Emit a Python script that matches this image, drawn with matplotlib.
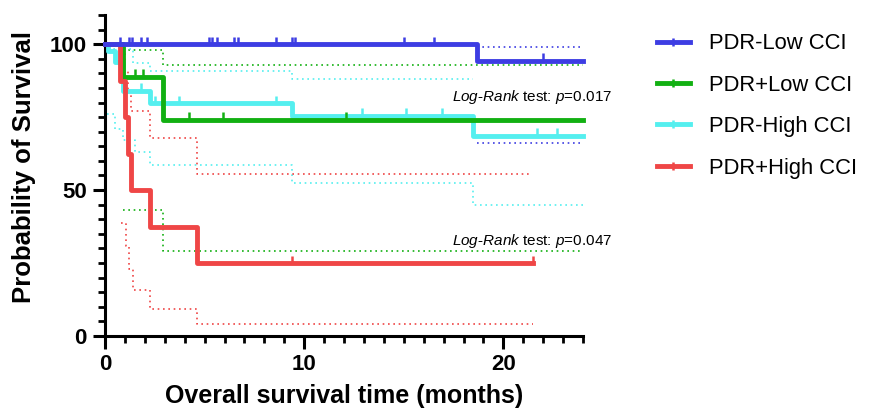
import matplotlib.pyplot as plt
from matplotlib.lines import Line2D
from matplotlib.ticker import MultipleLocator

plt.rcParams["font.family"] = ["Liberation Sans", "DejaVu Sans"]
plt.rcParams["mathtext.fontset"] = "custom"
plt.rcParams["mathtext.it"] = "Liberation Sans:italic"
plt.rcParams["mathtext.rm"] = "Liberation Sans"

labels = ["PDR-Low CCI", "PDR+Low CCI", "PDR-High CCI", "PDR+High CCI"]
colors = ["#3d3de3", "#12b012", "#55efef", "#ef4646"]

# survival curves (months, %)
blue_t = [0, 18.7, 24]
blue_s = [100, 94.4, 94.4]
blue_cens = [0.75, 1.2, 1.35, 1.8, 2.1, 5.2, 5.35, 5.6, 6.5, 6.7, 8.6, 9.4, 9.55, 15.0, 16.5, 22.0]
blue_up_t = [18.7, 24]
blue_up = [99, 99]
blue_lo_t = [18.7, 24]
blue_lo = [66, 66]

green_t = [0, 0.9, 2.9, 24]
green_s = [100, 88.9, 74.1, 74.1]
green_cens = [1.5, 1.9, 4.2, 5.9, 12.1]
green_up_t = [0.9, 2.9, 24]
green_up = [98, 92.8, 92.8]
green_lo_t = [0.9, 2.9, 24]
green_lo = [43.2, 29, 29]

cyan_t = [0, 0.15, 0.5, 0.9, 2.25, 9.4, 18.5, 24]
cyan_s = [100, 97.7, 94, 84.1, 79.8, 75.5, 68.6, 68.6]
cyan_cens = [1.8, 2.5, 3.7, 8.6, 12.9, 15.1, 16.9, 21.7, 22.7]
cyan_up_t = [0.15, 1.4, 2.25, 9.4, 18.5]
cyan_up = [98.5, 93.5, 90.7, 88, 88]
cyan_lo_t = [0.1, 0.5, 0.9, 1.5, 2.25, 9.4, 18.5, 24]
cyan_lo = [76, 71, 67, 63, 58.5, 52.4, 45, 45]

red_t = [0, 0.75, 1.0, 1.15, 1.3, 2.25, 4.6, 21.5]
red_s = [100, 87.5, 75, 62.5, 50, 37.5, 25, 25]
red_cens = [9.4, 21.5]
red_up_t = [0.75, 1.0, 1.15, 1.3, 2.25, 4.6, 21.3]
red_up = [97, 91, 84, 77, 68, 55.5, 55.5]
red_lo_t = [0.8, 1.05, 1.2, 1.4, 2.25, 4.6, 21.5]
red_lo = [38.7, 31, 23, 15.6, 9.2, 4, 4]

series = [
    (blue_t, blue_s, blue_cens, blue_up_t, blue_up, blue_lo_t, blue_lo, 6),
    (green_t, green_s, green_cens, green_up_t, green_up, green_lo_t, green_lo, 4),
    (cyan_t, cyan_s, cyan_cens, cyan_up_t, cyan_up, cyan_lo_t, cyan_lo, 3),
    (red_t, red_s, red_cens, red_up_t, red_up, red_lo_t, red_lo, 5),
]

fig = plt.figure(figsize=(8.84, 4.16), dpi=100)
ax = fig.add_axes([0.1188, 0.1923, 0.5407, 0.7717])


def surv_at(t, s, x):
    val = s[0]
    for ti, si in zip(t, s):
        if ti <= x:
            val = si
    return val


for (t, s, cens, ut, u, lt, lo, z), c in zip(series, colors):
    ax.step(ut, u, where="post", color=c, lw=1.2, ls=(0, (1, 2.2)), zorder=2, clip_on=False)
    ax.step(lt, lo, where="post", color=c, lw=1.2, ls=(0, (1, 2.2)), zorder=2, clip_on=False)
    ax.step(t, s, where="post", color=c, lw=3.5, zorder=z, clip_on=False)
    cy = [surv_at(t, s, x) + 1.2 for x in cens]
    ax.plot(cens, cy, ls="none", marker="|", ms=6, mew=1.8, color=c, zorder=z, clip_on=False)

ax.set_xlim(0, 24)
ax.set_ylim(0, 110)
ax.xaxis.set_major_locator(MultipleLocator(10))
ax.xaxis.set_minor_locator(MultipleLocator(1))
ax.set_yticks([0, 50, 100])
ax.yaxis.set_minor_locator(MultipleLocator(5))
for side in ["top", "right"]:
    ax.spines[side].set_visible(False)
for side in ["left", "bottom"]:
    ax.spines[side].set_linewidth(2.2)
ax.tick_params(which="major", length=9, width=2.2, labelsize=16, pad=4)
ax.tick_params(which="minor", length=5, width=2.0)
for lab in ax.get_xticklabels() + ax.get_yticklabels():
    lab.set_fontweight("bold")

ax.set_xlabel("Overall survival time (months)", fontsize=18, fontweight="bold")
ax.set_ylabel("Probability of Survival", fontsize=18.5, fontweight="bold")
ax.xaxis.set_label_coords(0.501, -0.187)
ax.xaxis.label.set_va("center")
ax.yaxis.set_label_coords(-0.169, 0.525)
ax.yaxis.label.set_va("center")

ax.text(17.4, 81.8, r"$\mathit{Log}$-$\mathit{Rank}$ test: $\mathit{p}$=0.017",
        fontsize=11, va="center", ha="left", clip_on=False)
ax.text(17.4, 32.5, r"$\mathit{Log}$-$\mathit{Rank}$ test: $\mathit{p}$=0.047",
        fontsize=11, va="center", ha="left", clip_on=False)

handles = [Line2D([0], [0], color=c, lw=3.5, marker="|", ms=6, mew=1.8) for c in colors]
fig.legend(handles, labels, loc="upper left", bbox_to_anchor=(0.733, 0.941),
           frameon=False, fontsize=15.8, handlelength=1.5, handletextpad=0.9,
           labelspacing=0.93, borderaxespad=0)

fig.savefig("out.png", dpi=100)
